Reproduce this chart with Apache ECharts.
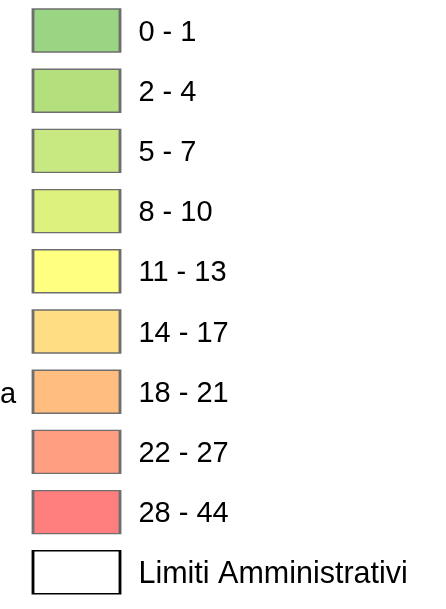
<!DOCTYPE html>
<html>
<head>
<meta charset="utf-8">
<script src="https://cdn.jsdelivr.net/npm/echarts@6/dist/echarts.min.js"></script>
<style>
  html, body { margin: 0; padding: 0; background: #fff; }
  #chart { width: 446px; height: 609px; }
</style>
</head>
<body>
<div id="chart"></div>
<script>
// classi della legenda
const classi = ['0 - 1', '2 - 4', '5 - 7', '8 - 10', '11 - 13', '14 - 17', '18 - 21', '22 - 27', '28 - 44', 'Limiti Amministrativi'];
// colori di riempimento per classe
const colori = ['#9ad583', '#b3df7d', '#c8e882', '#ddf27e', '#ffff80', '#ffdd83', '#ffbe80', '#ff9e80', '#ff7f7f', '#ffffff'];
const bordi = ['#6e6e6e', '#6e6e6e', '#6e6e6e', '#6e6e6e', '#6e6e6e', '#6e6e6e', '#6e6e6e', '#6e6e6e', '#6e6e6e', '#000000'];

const chart = echarts.init(document.getElementById('chart'), null, { renderer: 'canvas' });

const option = {
  backgroundColor: '#fff',
  animation: false,
  textStyle: { fontFamily: 'Liberation Sans, Arial, sans-serif' },
  grid: { left: 0, right: 0, top: 0.4, height: 602 },
  xAxis: { type: 'value', min: 0, max: 446, show: false },
  yAxis: { type: 'category', data: classi, inverse: true, show: false },
  graphic: [
    {
      type: 'text',
      left: 0,
      top: 380,
      style: { text: 'a', font: '29px "Liberation Sans", Arial, sans-serif', fill: '#000' }
    }
  ],
  series: [
    {
      type: 'scatter',
      symbol: 'rect',
      symbolSize: [87, 43],
      data: classi.map((c, i) => ({
        value: [76.5, c],
        itemStyle: { color: colori[i], borderColor: bordi[i], borderWidth: 2, opacity: 1 },
        label: i === classi.length - 1 ? { fontSize: 30.5 } : undefined
      })),
      label: {
        show: true,
        position: 'right',
        distance: 17,
        offset: [0, 2],
        formatter: p => p.value[1],
        color: '#000',
        fontSize: 29,
        fontFamily: 'Liberation Sans'
      }
    }
  ]
};

chart.setOption(option);
window.addEventListener('resize', () => chart.resize());
</script>
</body>
</html>
